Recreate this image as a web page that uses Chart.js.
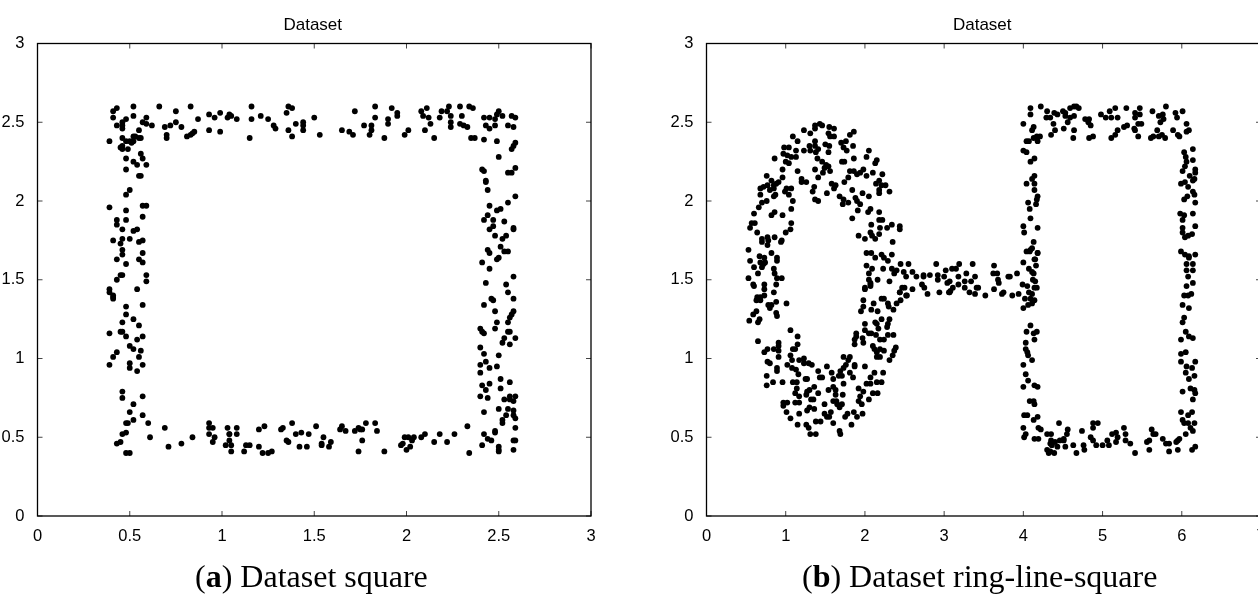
<!DOCTYPE html>
<html>
<head>
<meta charset="utf-8">
<title>Dataset</title>
<script src="https://cdn.jsdelivr.net/npm/chart.js@4/dist/chart.umd.min.js"></script>
<style>
html, body { margin: 0; padding: 0; width: 1258px; height: 597px; overflow: hidden; background: #fff; }
canvas { position: absolute; top: 0; }
.caption { position: absolute; top: 558px; font: 32px "Liberation Serif", serif; color: #000; white-space: nowrap; }
</style>
</head>
<body>
<canvas id="chartA" width="640" height="597" style="left:0"></canvas>
<canvas id="chartB" width="620" height="597" style="left:669px"></canvas>
<div class="caption" style="left:195px">(<b>a</b>) Dataset square</div>
<div class="caption" style="left:802px">(<b>b</b>) Dataset ring-line-square</div>
<script>
const chartTitle = 'Dataset';

// left panel
const squareTop = [[.66,2.60],[.69,2.47],[.72,2.48],[.75,2.50],[.78,2.47],[.75,2.57],[.70,2.42],[.70,2.40],[.83,2.60],[.87,2.52],[.81,2.41],[.83,2.42],[.84,2.43],[.85,2.44],[.93,2.55],[.96,2.53],[.93,2.45],[.99,2.56],[.99,2.44],[1.03,2.53],[1.04,2.55],[1.05,2.54],[1.08,2.52],[1.16,2.60],[1.16,2.52],[1.15,2.40],[1.21,2.54],[1.25,2.52],[1.28,2.48],[1.29,2.46],[1.35,2.56],[1.36,2.60],[1.38,2.59],[1.36,2.45],[1.40,2.49],[1.38,2.41],[1.44,2.50],[1.44,2.48],[1.44,2.45],[1.50,2.53],[1.53,2.42],[1.65,2.45],[1.69,2.44],[1.71,2.42],[1.72,2.57],[1.77,2.48],[1.81,2.48],[1.81,2.45],[1.80,2.42],[1.83,2.60],[1.83,2.53],[1.92,2.59],[1.95,2.56],[1.95,2.54],[1.90,2.52],[1.90,2.49],[1.88,2.40],[1.99,2.42],[2.01,2.45],[2.08,2.57],[2.11,2.59],[2.09,2.54],[2.12,2.53],[2.13,2.49],[2.10,2.45],[2.15,2.40],[2.19,2.57],[2.18,2.53],[2.23,2.60],[2.22,2.57],[2.24,2.54],[2.24,2.50],[2.24,2.47],[2.29,2.60],[2.30,2.54],[2.29,2.49],[2.31,2.48],[2.33,2.47],[2.34,2.60],[2.36,2.59],[2.35,2.40],[2.37,2.40]];
const squareLeft = [[.41,2.57],[.41,2.53],[.43,2.59],[.52,2.60],[.52,2.54],[.48,2.52],[.46,2.50],[.43,2.48],[.46,2.48],[.46,2.46],[.59,2.53],[.57,2.50],[.59,2.49],[.62,2.48],[.55,2.45],[.39,2.38],[.46,2.40],[.52,2.41],[.53,2.41],[.55,2.40],[.56,2.40],[.52,2.38],[.51,2.37],[.48,2.38],[.50,2.38],[.45,2.34],[.46,2.35],[.46,2.33],[.49,2.33],[.48,2.27],[.56,2.30],[.57,2.27],[.52,2.25],[.54,2.23],[.59,2.23],[.48,2.20],[.55,2.16],[.56,2.16],[.50,2.07],[.48,2.04],[.39,1.96],[.57,1.97],[.59,1.97],[.48,1.94],[.57,1.90],[.43,1.88],[.48,1.88],[.43,1.85],[.46,1.82],[.52,1.81],[.54,1.82],[.41,1.75],[.46,1.76],[.50,1.76],[.45,1.73],[.55,1.74],[.57,1.75],[.46,1.69],[.46,1.66],[.57,1.67],[.43,1.63],[.55,1.63],[.57,1.61],[.48,1.60],[.45,1.53],[.46,1.53],[.43,1.50],[.59,1.53],[.59,1.49],[.54,1.44],[.39,1.44],[.39,1.42],[.41,1.40],[.41,1.39],[.41,1.38],[.48,1.33],[.57,1.34],[.48,1.28],[.52,1.25],[.46,1.23],[.55,1.21],[.45,1.17],[.46,1.17],[.39,1.16],[.48,1.14],[.57,1.14],[.54,1.12],[.50,1.08],[.52,1.06],[.56,1.05],[.43,1.04],[.41,1.01],[.55,1.01],[.39,.96],[.50,.97],[.57,.96],[.50,.94],[.54,.92],[.46,.79],[.46,.75],[.57,.76],[.52,.71],[.50,.66],[.57,.64],[.52,.61],[.48,.59],[.49,.59],[.60,.59],[.48,.53],[.46,.52],[.61,.50],[.43,.46],[.45,.47],[.48,.40],[.50,.40]];
const squareBottom = [[.69,.56],[.71,.44],[.78,.46],[.84,.50],[.93,.59],[.95,.56],[.93,.56],[.93,.52],[.96,.50],[.95,.47],[1.03,.56],[1.04,.52],[1.04,.52],[1.04,.48],[1.02,.45],[1.05,.45],[1.05,.41],[1.08,.56],[1.08,.52],[1.13,.45],[1.15,.45],[1.12,.41],[1.20,.55],[1.23,.57],[1.20,.44],[1.22,.40],[1.25,.40],[1.27,.41],[1.32,.55],[1.33,.56],[1.35,.48],[1.36,.47],[1.38,.59],[1.40,.52],[1.43,.53],[1.47,.52],[1.51,.57],[1.42,.44],[1.46,.44],[1.54,.45],[1.55,.50],[1.54,.46],[1.59,.47],[1.58,.44],[1.65,.57],[1.64,.55],[1.67,.54],[1.72,.54],[1.74,.56],[1.75,.55],[1.76,.55],[1.78,.59],[1.83,.59],[1.84,.54],[1.76,.48],[1.74,.41],[1.88,.41],[1.97,.45],[1.98,.46],[1.99,.50],[2.01,.50],[2.04,.50],[2.03,.48],[2.00,.42],[2.02,.44],[2.08,.50],[2.10,.52],[2.15,.47],[2.18,.52],[2.22,.47],[2.26,.52],[2.33,.57],[2.34,.40]];
const squareRight = [[2.42,2.39],[2.42,2.53],[2.45,2.53],[2.43,2.48],[2.45,2.46],[2.48,2.52],[2.48,2.48],[2.50,2.57],[2.49,2.55],[2.52,2.54],[2.57,2.54],[2.59,2.53],[2.55,2.48],[2.58,2.47],[2.49,2.38],[2.59,2.37],[2.58,2.35],[2.57,2.33],[2.50,2.28],[2.41,2.20],[2.42,2.19],[2.55,2.18],[2.57,2.18],[2.59,2.21],[2.43,2.13],[2.43,2.12],[2.44,2.07],[2.59,2.03],[2.55,1.99],[2.45,1.97],[2.49,1.94],[2.51,1.95],[2.44,1.91],[2.42,1.88],[2.47,1.88],[2.53,1.87],[2.47,1.84],[2.45,1.82],[2.58,1.83],[2.58,1.82],[2.48,1.78],[2.52,1.76],[2.54,1.78],[2.44,1.69],[2.45,1.67],[2.51,1.71],[2.53,1.68],[2.55,1.68],[2.49,1.63],[2.50,1.64],[2.41,1.61],[2.45,1.57],[2.43,1.48],[2.54,1.47],[2.58,1.52],[2.55,1.42],[2.46,1.38],[2.47,1.37],[2.58,1.38],[2.42,1.34],[2.48,1.30],[2.55,1.23],[2.56,1.26],[2.57,1.28],[2.58,1.30],[2.48,1.19],[2.49,1.23],[2.42,1.16],[2.41,1.17],[2.40,1.19],[2.55,1.17],[2.56,1.17],[2.52,1.10],[2.53,1.13],[2.56,1.09],[2.59,1.13],[2.50,1.02],[2.42,1.03],[2.40,1.07],[2.40,.91],[2.40,.96],[2.43,.98],[2.45,.94],[2.49,.95],[2.51,.87],[2.51,.81],[2.56,.85],[2.40,.76],[2.44,.75],[2.43,.80],[2.41,.83],[2.45,.84],[2.53,.74],[2.56,.76],[2.56,.74],[2.58,.73],[2.59,.76],[2.50,.68],[2.55,.68],[2.58,.67],[2.58,.64],[2.59,.62],[2.42,.66],[2.54,.64],[2.52,.61],[2.52,.59],[2.59,.56],[2.58,.48],[2.59,.48],[2.58,.42],[2.50,.44],[2.50,.42],[2.50,.41],[2.48,.54],[2.48,.53],[2.42,.52],[2.44,.49],[2.41,.45],[2.46,.48]];

// right panel
const ringTop = [[1.37,2.48],[1.43,2.49],[1.46,2.48],[1.37,2.46],[1.55,2.47],[1.61,2.46],[1.23,2.45],[1.31,2.43],[1.09,2.41],[1.15,2.38],[1.54,2.43],[1.56,2.41],[1.61,2.41],[1.86,2.44],[1.81,2.42],[1.37,2.38],[1.30,2.35],[1.37,2.35],[1.41,2.33],[1.23,2.32],[1.31,2.32],[1.38,2.31],[1.50,2.36],[1.55,2.35],[1.54,2.31],[1.70,2.37],[1.76,2.38],[1.73,2.34],[1.85,2.35],[1.77,2.32],[.98,2.34],[1.04,2.34],[.97,2.30],[1.02,2.29],[1.07,2.28],[1.13,2.32],[1.13,2.28],[.86,2.27],[1.00,2.25],[1.04,2.24],[.96,2.20],[1.15,2.19],[2.05,2.32],[2.02,2.28],[2.15,2.26],[2.13,2.24],[1.40,2.27],[1.46,2.25],[1.51,2.23],[1.54,2.22],[1.49,2.21],[1.56,2.19],[1.37,2.20],[1.47,2.18],[1.71,2.25],[1.74,2.25],[1.86,2.27],[1.81,2.19],[1.86,2.19],[1.90,2.17],[1.94,2.18],[1.98,2.20],[2.02,2.16],[2.10,2.18],[2.22,2.17],[1.79,2.15],[1.74,2.12],[1.41,2.15],[1.20,2.14],[1.20,2.12],[1.26,2.12],[.76,2.16],[.96,2.15],[.91,2.12],[.85,2.10],[.82,2.13],[.68,2.08],[.72,2.09],[.77,2.10],[.80,2.07],[.85,2.08],[.88,2.11],[.68,2.04],[.87,2.04],[.85,2.03],[.76,2.00],[1.01,2.08],[1.07,2.08],[.99,2.06],[1.04,2.04],[1.09,2.00],[1.36,2.09],[1.34,2.06],[1.52,2.05],[1.58,2.11],[1.63,2.10],[1.61,2.08],[1.37,2.01],[1.41,2.00],[1.68,2.03],[1.73,2.01],[1.79,1.99],[1.72,1.98],[1.84,2.07],[1.88,2.02],[1.90,2.00],[1.94,1.98],[1.91,1.94],[1.97,2.05],[2.05,2.03],[2.07,1.95],[2.04,1.93],[2.14,2.11],[2.18,2.13],[2.21,2.10],[2.26,2.10],[2.18,2.07],[2.18,2.05],[2.31,2.06],[2.18,1.93],[2.18,1.88],[2.22,1.88],[1.84,1.89]];
const ringMiddle = [[1.07,1.95],[1.07,1.86],[1.06,1.82],[1.00,1.80],[.96,1.91],[.86,1.93],[.82,1.91],[.70,1.99],[.66,1.96],[.60,1.92],[.61,1.86],[.57,1.86],[.55,1.83],[.64,1.80],[.70,1.76],[.70,1.74],[.77,1.77],[.78,1.75],[.77,1.72],[.86,1.77],[.95,1.75],[.94,1.74],[2.08,1.85],[2.19,1.83],[2.28,1.83],[2.34,1.85],[2.44,1.84],[2.44,1.82],[2.07,1.80],[2.09,1.78],[2.13,1.76],[2.00,1.76],[1.92,1.78],[2.18,1.79],[2.35,1.74],[.53,1.69],[.82,1.67],[.67,1.65],[.73,1.64],[.89,1.64],[.89,1.62],[.55,1.62],[.68,1.61],[.72,1.60],[.74,1.61],[.60,1.58],[.70,1.58],[.85,1.57],[.86,1.54],[.65,1.54],[.53,1.51],[.95,1.51],[.89,1.51],[.88,1.47],[.73,1.47],[.59,1.47],[.60,1.46],[.73,1.44],[.85,1.42],[.64,1.39],[.68,1.39],[.73,1.40],[2.02,1.67],[2.08,1.67],[2.13,1.64],[2.21,1.66],[2.24,1.64],[2.29,1.62],[2.34,1.66],[2.02,1.59],[2.09,1.57],[2.05,1.54],[2.23,1.57],[2.34,1.57],[2.40,1.56],[2.37,1.54],[2.05,1.50],[2.07,1.48],[2.16,1.50],[2.31,1.49],[2.00,1.45],[2.07,1.46],[2.44,1.42],[2.53,1.40],[2.47,1.45],[.63,1.37],[.68,1.37],[1.01,1.35],[.88,1.36],[.82,1.34],[.78,1.34],[.80,1.32],[.63,1.30],[.59,1.28],[.88,1.29],[.89,1.27],[.54,1.24],[.67,1.25],[.65,1.23]];
const ringBottom = [[.65,1.11],[1.06,1.18],[1.15,1.14],[1.15,1.09],[1.12,1.06],[1.09,1.06],[.91,1.10],[.91,1.08],[.85,1.06],[.91,1.05],[.91,1.01],[.77,1.06],[.73,1.04],[.77,.98],[.80,.97],[.89,.94],[.89,.92],[.76,.89],[.84,.85],[.76,.83],[.96,.85],[1.06,1.02],[1.08,.99],[1.02,.96],[1.08,.94],[1.13,.93],[1.16,.90],[1.17,.99],[1.23,1.00],[1.23,.97],[1.29,.97],[1.33,.96],[1.25,.87],[1.27,.87],[1.09,.85],[1.14,.85],[1.41,.92],[1.43,.88],[1.46,.88],[1.52,.95],[1.58,.91],[1.60,.87],[1.14,.81],[1.12,.78],[1.17,.76],[1.27,.79],[1.30,.80],[1.36,.82],[1.41,.78],[1.26,.77],[1.32,.74],[1.35,.74],[1.12,.72],[1.17,.72],[.97,.72],[1.02,.72],[.97,.70],[1.30,.69],[1.27,.67],[1.36,.68],[1.49,.71],[1.01,.66],[1.17,.65],[1.06,.62],[1.15,.58],[1.26,.58],[1.29,.56],[1.31,.52],[1.38,.52],[1.38,.60],[1.44,.60],[1.49,.65],[1.52,.63],[1.55,.63],[1.57,.66],[1.60,.59],[1.69,.52],[1.68,.54],[1.54,.80],[1.60,.82],[1.63,.80],[1.63,.77],[1.73,.84],[1.72,.77],[1.64,.73],[1.60,.73],[1.65,.71],[1.71,.71],[1.68,.69],[1.75,.63],[1.78,.65],[1.86,.66],[1.90,.63],[1.83,.58],[1.97,.65],[1.73,1.01],[1.81,1.01],[1.79,.99],[1.76,.96],[1.73,.94],[1.69,.92],[1.67,.89],[1.71,.89],[1.87,.96],[1.87,.95],[1.81,.91],[1.85,.88],[2.00,.95],[2.12,.91],[2.23,.91],[2.07,.88],[2.15,.85],[2.21,.85],[2.02,.84],[2.07,.84],[1.92,.81],[1.98,.79],[1.94,.76],[2.10,.78],[2.16,.78],[2.05,.74],[1.92,.73],[1.96,.71],[2.00,1.44],[2.07,1.47],[1.98,1.37],[1.98,1.33],[1.95,1.30],[2.08,1.31],[2.11,1.35],[2.16,1.30],[2.21,1.38],[2.24,1.38],[2.29,1.35],[2.30,1.33],[2.36,1.31],[2.40,1.35],[2.45,1.37],[2.00,1.22],[2.13,1.23],[2.21,1.25],[2.31,1.25],[2.29,1.22],[2.28,1.20],[1.89,1.16],[1.89,1.14],[1.87,1.12],[1.87,1.09],[1.97,1.13],[1.98,1.10],[2.00,1.18],[2.05,1.16],[2.08,1.16],[2.14,1.15],[2.15,1.22],[2.17,1.19],[2.19,1.12],[2.24,1.12],[2.29,1.15],[2.36,1.15],[2.10,1.08],[2.12,1.06],[2.15,1.04],[2.15,1.01],[2.19,1.01],[2.19,1.06],[2.24,1.05],[2.39,1.07],[2.37,1.05],[2.35,1.02],[2.31,.99]];
const lineMiddle = [[2.45,1.60],[2.55,1.60],[2.49,1.55],[2.60,1.55],[2.52,1.52],[2.65,1.52],[2.74,1.53],[2.74,1.52],[2.82,1.53],[2.90,1.60],[2.92,1.53],[2.92,1.50],[3.00,1.52],[3.02,1.56],[3.10,1.57],[3.15,1.57],[3.19,1.60],[3.28,1.54],[3.18,1.52],[3.26,1.49],[3.34,1.49],[3.39,1.52],[3.36,1.60],[3.07,1.49],[3.04,1.48],[3.18,1.47],[3.11,1.45],[3.07,1.42],[3.26,1.45],[3.32,1.42],[3.39,1.41],[3.41,1.45],[3.43,1.45],[3.52,1.40],[3.63,1.59],[3.67,1.54],[3.62,1.54],[3.68,1.50],[3.69,1.48],[3.63,1.44],[3.81,1.52],[3.83,1.52],[3.92,1.54],[3.75,1.42],[3.73,1.41],[3.86,1.40],[3.94,1.41],[2.44,1.42],[2.50,1.45],[2.52,1.40],[2.60,1.44],[2.72,1.47],[2.75,1.45],[2.79,1.41],[2.94,1.42],[3.06,1.42],[3.08,1.43],[4.00,1.61],[4.04,1.68],[4.09,1.69],[4.15,1.63],[4.18,1.67],[4.16,1.59],[4.07,1.57],[4.11,1.55],[4.13,1.54],[4.12,1.50],[4.15,1.49],[3.99,1.47],[4.05,1.46],[4.14,1.45],[4.17,1.45],[4.07,1.42],[4.11,1.41],[4.09,1.38],[4.02,1.38],[4.14,1.37],[4.11,1.35],[4.06,1.34],[4.00,1.32]];
const boxTop = [[4.09,2.59],[4.09,2.55],[4.22,2.60],[4.30,2.57],[4.29,2.53],[4.34,2.53],[4.39,2.56],[4.43,2.55],[4.50,2.57],[4.53,2.56],[4.53,2.54],[4.59,2.59],[4.64,2.60],[4.67,2.60],[4.70,2.59],[4.64,2.54],[4.59,2.53],[4.56,2.50],[4.38,2.49],[4.40,2.45],[4.35,2.42],[4.51,2.46],[4.64,2.45],[4.63,2.40],[4,2.49],[4.13,2.47],[4.11,2.45],[4.78,2.52],[4.83,2.52],[4.82,2.50],[4.85,2.48],[4.88,2.41],[4.83,2.40],[4.98,2.55],[5.04,2.53],[5.09,2.57],[5.16,2.59],[5.11,2.53],[5.19,2.53],[5.19,2.45],[5.16,2.42],[5.11,2.40],[5.30,2.59],[5.27,2.47],[5.31,2.48],[5.41,2.56],[5.47,2.59],[5.47,2.55],[5.41,2.53],[5.45,2.49],[5.49,2.49],[5.40,2.46],[5.45,2.41],[5.41,2.45],[5.63,2.57],[5.71,2.54],[5.76,2.55],[5.80,2.60],[5.77,2.52],[5.73,2.50],[5.69,2.45],[5.61,2.40],[5.64,2.41],[5.71,2.41],[5.75,2.42],[5.79,2.40],[5.92,2.56],[5.94,2.53],[6.01,2.57],[6.06,2.49],[5.89,2.45],[5.95,2.42],[5.97,2.41],[6.06,2.44],[6.09,2.45]];
const boxLeft = [[4.04,2.38],[4.07,2.38],[4.13,2.40],[4.17,2.41],[4.21,2.41],[4.18,2.38],[4,2.32],[4.04,2.31],[4.14,2.27],[4.09,2.25],[4.14,2.16],[4.11,2.14],[4.04,2.11],[4.14,2.11],[4.14,2.07],[4.18,2.03],[4.17,2.01],[4.16,1.98],[4.06,1.99],[4.08,1.95],[4.09,1.89],[4,1.84],[4.18,1.83],[4.01,1.80],[4.13,1.74],[4.11,1.70],[4.08,1.68],[4.18,1.67],[4.14,1.63],[4.09,1.21],[4.04,1.17],[4.17,1.17],[4.13,1.16],[4.14,1.12],[4.03,1.10],[4.03,1.06],[4.05,1.04],[4.06,1.02],[4.11,.99],[4,.96],[4.03,.90],[4.06,.86],[4,.82],[4.14,.83],[4.18,.82],[4.08,.73],[4.13,.73],[4.14,.71],[4.01,.64],[4.05,.64],[4.18,.63],[4.13,.61],[4,.56],[4.19,.56],[4.22,.55],[4.03,.52],[4.01,.50],[4.14,.49],[4.19,.49]];
const boxBottom = [[4.30,.52],[4.35,.52],[4.35,.48],[4.34,.46],[4.40,.47],[4.46,.48],[4.51,.49],[4.51,.48],[4.55,.52],[4.56,.55],[4.45,.59],[4.43,.44],[4.53,.44],[4.36,.45],[4.30,.42],[4.32,.40],[4.34,.41],[4.39,.40],[4.63,.45],[4.67,.40],[4.76,.45],[4.77,.42],[4.74,.54],[4.88,.59],[4.94,.59],[4.88,.56],[4.85,.50],[4.88,.48],[4.92,.45],[5,.45],[5.06,.48],[5.08,.45],[5.12,.52],[5.17,.53],[5.19,.50],[5.17,.47],[5.27,.56],[5.29,.52],[5.29,.48],[5.35,.46],[5.41,.40],[5.56,.47],[5.59,.42],[5.59,.48],[5.62,.55],[5.64,.52],[5.67,.52],[5.76,.49],[5.80,.46],[5.84,.46],[5.84,.41],[5.95,.42],[5.93,.47],[5.95,.48],[5.97,.49],[6.05,.52],[6.13,.42],[6.17,.44]];
const boxRight = [[6.14,2.33],[6.03,2.31],[6.05,2.28],[6.14,2.26],[6.06,2.25],[6.04,2.22],[6.01,2.19],[6.17,2.20],[6.17,2.18],[6.10,2.16],[6.16,2.14],[6.14,2.13],[6.04,2.12],[5.99,2.11],[6.08,2.09],[6.14,2.06],[6.16,2.04],[6.07,2.03],[6.03,2.01],[6.17,1.99],[5.98,1.92],[6.03,1.91],[6.14,1.92],[6.01,1.88],[6.17,1.84],[6.01,1.83],[6.01,1.80],[6.13,1.79],[6.08,1.78],[6.04,1.77],[5.99,1.68],[6.04,1.66],[6.09,1.65],[6.09,1.64],[6.17,1.66],[6.06,1.60],[6.14,1.60],[6.06,1.56],[6.14,1.56],[6.08,1.52],[6.14,1.48],[6.06,1.46],[6.03,1.40],[6.08,1.40],[6.12,1.41],[6.01,1.34],[6.09,1.32],[6.03,1.26],[6.01,1.23],[6.05,1.17],[5.99,1.12],[6.09,1.14],[6.14,1.13],[5.99,1.03],[6.05,1.04],[5.99,.98],[6.17,.98],[6.06,.95],[6.13,.94],[6.05,.91],[6.16,.89],[6.09,.87],[6.01,.79],[6.11,.81],[6.16,.80],[6.17,.78],[6.14,.74],[5.99,.66],[6.13,.66],[6.08,.64],[6.01,.61],[6.03,.59],[6.08,.59],[6.16,.59],[6.11,.56],[6.14,.54]];

const squareX = [0, 0.5, 1, 1.5, 2, 2.5, 3];
const ringX = [0, 1, 2, 3, 4, 5, 6, 7];
const sharedY = [0, 0.5, 1, 1.5, 2, 2.5, 3];

// box round the plot, matlab style inner ticks, title centred on the axes
const frame = {
  id: 'frame',
  afterDatasetsDraw(chart) {
    const { ctx, chartArea: a, scales } = chart;
    ctx.save();
    ctx.strokeStyle = '#444';
    ctx.lineWidth = 1;
    ctx.beginPath();
    scales.x.ticks.forEach(t => {
      const px = scales.x.getPixelForValue(t.value);
      ctx.moveTo(px, a.bottom); ctx.lineTo(px, a.bottom - 5);
      ctx.moveTo(px, a.top); ctx.lineTo(px, a.top + 5);
    });
    scales.y.ticks.forEach(t => {
      const py = scales.y.getPixelForValue(t.value);
      ctx.moveTo(a.left, py); ctx.lineTo(a.left + 5, py);
      ctx.moveTo(a.right, py); ctx.lineTo(a.right - 5, py);
    });
    ctx.stroke();
    ctx.strokeStyle = '#000';
    ctx.lineWidth = 1.3;
    ctx.strokeRect(a.left, a.top, a.right - a.left, a.bottom - a.top);
    ctx.fillStyle = '#000';
    ctx.font = '17px "Liberation Sans"';
    ctx.textAlign = 'center';
    ctx.textBaseline = 'middle';
    ctx.fillText(chartTitle, (a.left + a.right) / 2 - 1.5, 25);
    ctx.restore();
  }
};

function drawPanel(id, pts, xTicks, xMax, rightPad) {
  new Chart(document.getElementById(id), {
    type: 'scatter',
    data: {
      datasets: [{
        data: pts.map(p => ({ x: p[0], y: p[1] })),
        backgroundColor: '#000',
        borderWidth: 0,
        pointRadius: 2.9
      }]
    },
    options: {
      responsive: false,
      animation: false,
      layout: { padding: { left: 0, top: 43.5, right: rightPad, bottom: 51 } },
      plugins: {
        legend: { display: false },
        tooltip: { enabled: false }
      },
      scales: {
        x: {
          type: 'linear',
          min: 0,
          max: xMax,
          afterFit(s) { s.height = 30; },
          afterBuildTicks(s) { s.ticks = xTicks.map(v => ({ value: v })); },
          grid: { display: false },
          border: { display: false },
          ticks: {
            autoSkip: false,
            maxRotation: 0,
            padding: 3,
            color: '#000',
            font: { family: '"Liberation Sans"', size: 16.5 },
            callback: v => String(v)
          }
        },
        y: {
          type: 'linear',
          min: 0,
          max: 3,
          afterFit(s) { s.width = 37.5; },
          afterBuildTicks(s) { s.ticks = sharedY.map(v => ({ value: v })); },
          grid: { display: false },
          border: { display: false },
          ticks: {
            autoSkip: false,
            padding: 5,
            color: '#000',
            font: { family: '"Liberation Sans"', size: 16.5 },
            callback: v => String(v)
          }
        }
      }
    },
    plugins: [frame]
  });
}

drawPanel('chartA', [...squareTop, ...squareLeft, ...squareBottom, ...squareRight], squareX, 3, 49);
drawPanel('chartB', [...ringTop, ...ringMiddle, ...ringBottom, ...lineMiddle, ...boxTop, ...boxLeft, ...boxBottom, ...boxRight], ringX, 7, 28);
</script>
</body>
</html>
